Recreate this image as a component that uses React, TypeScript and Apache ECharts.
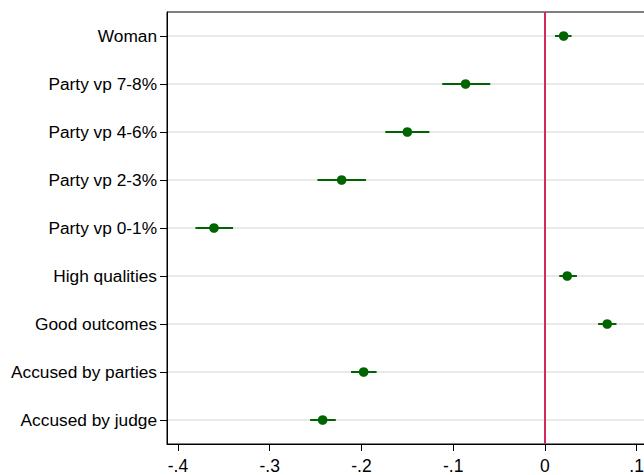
import React, { useEffect, useRef } from "react";
import * as echarts from "echarts";

const categories = [
  "Woman",
  "Party vp 7-8%",
  "Party vp 4-6%",
  "Party vp 2-3%",
  "Party vp 0-1%",
  "High qualities",
  "Good outcomes",
  "Accused by parties",
  "Accused by judge",
];
const estimates = [0.0204, -0.0865, -0.15, -0.2216, -0.3608, 0.0243, 0.0679, -0.1976, -0.2423];
const lowerCI = [0.011, -0.112, -0.174, -0.248, -0.381, 0.0156, 0.058, -0.2114, -0.256];
const upperCI = [0.029, -0.0596, -0.126, -0.195, -0.34, 0.0349, 0.078, -0.1835, -0.228];
const xTicks = [-0.4, -0.3, -0.2, -0.1, 0, 0.1];

const FONT = "'Liberation Sans', Arial, sans-serif";

export default function App() {
  const ref = useRef<HTMLDivElement>(null);
  useEffect(() => {
    if (!ref.current) return;
    const chart = echarts.init(ref.current, null, { renderer: "svg" });
    const gridData = categories.map((_, i) => [0, i]);
    const barData = categories.map((_, i) => [estimates[i], lowerCI[i], upperCI[i], i]);
    chart.setOption({
      animation: false,
      backgroundColor: "#fff",
      grid: {
        left: 167,
        width: 488,
        top: 12,
        bottom: 31,
        containLabel: false,
        outerBoundsMode: "none",
        show: true,
        borderColor: "#000",
        borderWidth: 1,
        backgroundColor: "transparent",
      },
      xAxis: {
        type: "value",
        min: -0.412,
        max: 0.12,
        splitLine: { show: false },
        axisLine: { show: true, onZero: false, lineStyle: { color: "#000", width: 1 } },
        axisTick: { show: true, length: 7, customValues: xTicks, lineStyle: { color: "#000" } },
        axisLabel: {
          customValues: xTicks,
          color: "#000",
          fontSize: 17.5,
          lineHeight: 14,
          fontFamily: FONT,
          margin: 15,
          formatter: (v: number) => {
            if (Math.abs(v) < 1e-9) return "0";
            const s = (Math.round(v * 10) / 10).toFixed(1);
            return s.replace("0.", ".");
          },
        },
      },
      yAxis: {
        type: "category",
        data: categories,
        inverse: true,
        boundaryGap: true,
        splitLine: { show: false },
        axisLine: { show: true, onZero: false, lineStyle: { color: "#000", width: 1 } },
        axisTick: { show: true, alignWithLabel: true, length: 7, lineStyle: { color: "#000" } },
        axisLabel: { color: "#000", fontSize: 17.3, fontFamily: FONT, margin: 10 },
      },
      series: [
        {
          type: "custom",
          z: 1,
          silent: true,
          data: gridData,
          encode: { x: 0, y: 1 },
          renderItem: (params: any, api: any) => {
            const cs = params.coordSys;
            const y = api.coord([0, api.value(1)])[1];
            return {
              type: "line",
              shape: { x1: cs.x + 1, y1: y, x2: cs.x + cs.width, y2: y },
              style: { stroke: "#e2e2e2", lineWidth: 1.5 },
            };
          },
          markLine: {
            silent: true,
            symbol: "none",
            label: { show: false },
            lineStyle: { color: "#d42a5b", width: 2, type: "solid" },
            data: [{ xAxis: 0 }],
          },
        },
        {
          type: "custom",
          z: 3,
          data: barData,
          encode: { x: [0, 1, 2], y: 3 },
          renderItem: (params: any, api: any) => {
            const cat = api.value(3);
            const p = api.coord([api.value(0), cat]);
            const lo = api.coord([api.value(1), cat]);
            const hi = api.coord([api.value(2), cat]);
            return {
              type: "group",
              children: [
                {
                  type: "line",
                  shape: { x1: lo[0], y1: lo[1], x2: hi[0], y2: hi[1] },
                  style: { stroke: "#006400", lineWidth: 2 },
                },
                {
                  type: "circle",
                  shape: { cx: p[0], cy: p[1], r: 4.8 },
                  style: { fill: "#006400", stroke: "none" },
                },
              ],
            };
          },
        },
      ],
    });
    return () => chart.dispose();
  }, []);
  return <div ref={ref} style={{ width: 644, height: 475, position: "absolute", left: 0, top: 0 }} />;
}
